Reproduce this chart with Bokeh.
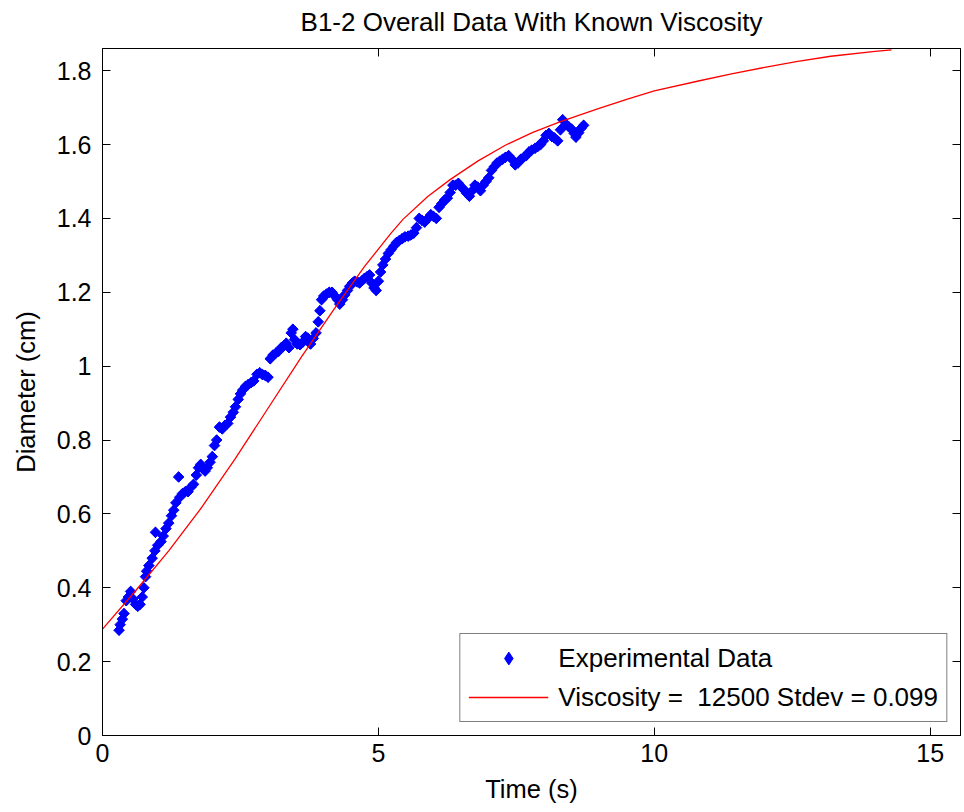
from bokeh.plotting import figure
from bokeh.models import (Range1d, LinearAxis, FixedTicker, Legend, LegendItem, ColumnDataSource,
                          CustomLabelingPolicy)
from bokeh.embed import file_html
from bokeh.resources import INLINE

TITLE = "B1-2 Overall Data With Known Viscosity"
X_LABEL = "Time (s)"
Y_LABEL = "Diameter (cm)"
X_TICKS = [0, 5, 10, 15]
X_TICK_LABELS = ["0", "5", "10", "15"]
Y_TICKS = [0, 0.2, 0.4, 0.6, 0.8, 1, 1.2, 1.4, 1.6, 1.8]
Y_TICK_LABELS = ["0", "0.2", "0.4", "0.6", "0.8", "1", "1.2", "1.4", "1.6", "1.8"]
DATA_LABEL = "Experimental Data"
MODEL_LABEL = "Viscosity =  12500 Stdev = 0.099"

exp_time = [
    0.30, 0.32, 0.36, 0.39, 0.43, 0.47, 0.51, 0.55, 0.60, 0.64, 0.68, 0.72, 0.75, 0.78, 0.80,
    0.84, 0.90, 0.95, 0.96, 1.00, 1.06, 1.10, 1.15, 1.20, 1.25, 1.29, 1.33, 1.38, 1.40, 1.45,
    1.50, 1.55, 1.60, 1.65, 1.70, 1.74, 1.78, 1.82, 1.86, 1.90, 1.95, 1.99, 2.03, 2.07, 2.12,
    2.17, 2.22, 2.27, 2.32, 2.37, 2.41, 2.46, 2.50, 2.54, 2.59, 2.64, 2.69, 2.74, 2.80, 2.85,
    2.90, 2.95, 3.00, 3.04, 3.09, 3.14, 3.19, 3.24, 3.29, 3.33, 3.38, 3.42, 3.45, 3.48, 3.53,
    3.58, 3.63, 3.68, 3.72, 3.77, 3.82, 3.87, 3.91, 3.94, 3.97, 4.01, 4.06, 4.11, 4.16, 4.21,
    4.26, 4.30, 4.35, 4.39, 4.44, 4.48, 4.53, 4.57, 4.62, 4.66, 4.71, 4.75, 4.80, 4.84, 4.88,
    4.92, 4.96, 5.00, 5.04, 5.08, 5.13, 5.18, 5.23, 5.28, 5.33, 5.38, 5.43, 5.48, 5.54, 5.59,
    5.64, 5.69, 5.74, 5.79, 5.84, 5.90, 5.95, 6.00, 6.05, 6.10, 6.15, 6.20, 6.25, 6.30, 6.35,
    6.40, 6.45, 6.50, 6.55, 6.60, 6.65, 6.70, 6.75, 6.80, 6.85, 6.90, 6.95, 7.00, 7.05, 7.10,
    7.15, 7.20, 7.25, 7.30, 7.36, 7.42, 7.48, 7.53, 7.58, 7.63, 7.68, 7.73, 7.78, 7.84, 7.89,
    7.94, 7.99, 8.04, 8.09, 8.14, 8.19, 8.25, 8.30, 8.34, 8.40, 8.45, 8.50, 8.55, 8.58, 8.63,
    8.68, 8.72,
]
exp_diam = [
    0.285, 0.300, 0.315, 0.330, 0.365, 0.375, 0.390, 0.370, 0.355, 0.350, 0.355, 0.375, 0.400, 0.430, 0.445,
    0.460, 0.480, 0.500, 0.550, 0.515, 0.525, 0.540, 0.560, 0.575, 0.595, 0.610, 0.630, 0.700, 0.645, 0.655,
    0.660, 0.660, 0.672, 0.680, 0.705, 0.725, 0.734, 0.722, 0.716, 0.725, 0.740, 0.755, 0.785, 0.800, 0.835,
    0.830, 0.840, 0.845, 0.862, 0.875, 0.890, 0.910, 0.925, 0.935, 0.945, 0.950, 0.955, 0.960, 0.978, 0.982,
    0.977, 0.975, 0.970, 1.020, 1.030, 1.035, 1.040, 1.050, 1.055, 1.062, 1.050, 1.090, 1.100, 1.072, 1.060,
    1.058, 1.065, 1.080, 1.076, 1.060, 1.075, 1.090, 1.120, 1.150, 1.180, 1.190, 1.195, 1.200, 1.200, 1.190,
    1.180, 1.168, 1.180, 1.193, 1.205, 1.216, 1.225, 1.230, 1.228, 1.225, 1.232, 1.238, 1.243, 1.247, 1.225,
    1.212, 1.205, 1.230, 1.255, 1.274, 1.290, 1.305, 1.315, 1.325, 1.335, 1.340, 1.345, 1.350, 1.352, 1.355,
    1.360, 1.375, 1.400, 1.395, 1.390, 1.400, 1.410, 1.405, 1.400, 1.430, 1.440, 1.450, 1.455, 1.470, 1.490,
    1.490, 1.495, 1.485, 1.478, 1.468, 1.460, 1.475, 1.490, 1.485, 1.475, 1.490, 1.500, 1.510, 1.530, 1.540,
    1.550, 1.555, 1.560, 1.565, 1.570, 1.560, 1.545, 1.550, 1.560, 1.565, 1.570, 1.580, 1.585, 1.590, 1.595,
    1.600, 1.610, 1.625, 1.630, 1.622, 1.618, 1.610, 1.640, 1.667, 1.655, 1.648, 1.642, 1.630, 1.620, 1.632,
    1.645, 1.652,
]

model_time = [0.0, 0.6, 1.2, 1.8, 2.4, 3.0, 3.6, 4.2, 4.75, 5.23, 5.45, 5.9, 6.3, 6.8, 7.3, 7.8,
              8.3, 9.0, 9.5, 10.0, 10.8, 11.4, 12.0, 12.6, 13.2, 14.0, 14.3]
model_diam = [0.288, 0.392, 0.500, 0.618, 0.748, 0.886, 1.024, 1.155, 1.270, 1.360, 1.398, 1.460, 1.505,
              1.555, 1.598, 1.633, 1.662, 1.698, 1.722, 1.745, 1.772, 1.791, 1.809, 1.825, 1.839, 1.852, 1.856]

FONT = "Liberation Sans"

p = figure(width=964, height=812, x_range=Range1d(0, 15.55), y_range=Range1d(0, 1.86),
           output_backend="svg", toolbar_location=None, title=TITLE,
           min_border_left=102, min_border_right=1, min_border_top=48, min_border_bottom=77)

p.title.align = "center"
p.title.text_font = FONT
p.title.text_font_size = "26px"
p.title.text_font_style = "normal"
p.title.text_color = "black"
p.title.vertical_align = "top"
p.title.text_baseline = "top"
p.title.standoff = 11

p.background_fill_color = "white"
p.border_fill_color = "white"
p.outline_line_color = "black"
p.xgrid.visible = False
p.ygrid.visible = False

xa = p.xaxis[0]
xa.ticker = FixedTicker(ticks=X_TICKS)
xa.major_label_overrides = dict(zip(X_TICKS, X_TICK_LABELS))
xa.axis_label = X_LABEL
xa.major_label_standoff = 8
xa.axis_label_standoff = 10

ya = p.yaxis[0]
ya.ticker = FixedTicker(ticks=Y_TICKS)
ya.major_label_overrides = dict(zip(Y_TICKS, Y_TICK_LABELS))
ya.axis_label = Y_LABEL
ya.major_label_standoff = 11
ya.axis_label_standoff = 14

for ax in (xa, ya):
    ax.major_tick_in = 8
    ax.major_tick_out = 0
    ax.minor_tick_in = 0
    ax.minor_tick_out = 0
    ax.axis_line_color = "black"
    ax.major_tick_line_color = "black"
    ax.major_label_text_font = FONT
    ax.major_label_text_font_size = "25px"
    ax.major_label_text_color = "black"
    ax.axis_label_text_font = FONT
    ax.axis_label_text_font_size = "25.5px"
    ax.axis_label_text_font_style = "normal"
    ax.axis_label_text_color = "black"

no_labels = CustomLabelingPolicy(code="""
    const out = indices.clone();
    for (let i = 0; i < out.size; i++) out.unset(i);
    return out;
""")

for side, ticks in (("right", Y_TICKS), ("above", X_TICKS)):
    ax = LinearAxis(ticker=FixedTicker(ticks=ticks), major_label_text_font_size="1px",
                    major_label_policy=no_labels,
                    major_label_standoff=0, major_tick_in=8, major_tick_out=0,
                    minor_tick_in=0, minor_tick_out=0, axis_line_color="black",
                    major_tick_line_color="black")
    p.add_layout(ax, side)

src = ColumnDataSource(data=dict(t=exp_time, d=exp_diam))
# diamond glyph (used for the legend sample) under a rotated-square glyph of the same points
sc_legend = p.scatter("t", "d", source=src, marker="diamond", size=10,
                      fill_color="#0000FF", line_color="#0000FF", line_width=1)
sc = p.scatter("t", "d", source=src, marker="square", angle=0.785398, size=7.5,
               fill_color="#0000FF", line_color="#0000FF", line_width=1)
msrc = ColumnDataSource(data=dict(t=model_time, d=model_diam))
ln = p.line("t", "d", source=msrc, line_color="#FF0000", line_width=1.3)

legend = Legend(items=[LegendItem(label=DATA_LABEL, renderers=[sc_legend]),
                       LegendItem(label=MODEL_LABEL, renderers=[ln])],
                location="bottom_right")
legend.border_line_color = "black"
legend.border_line_width = 1
legend.background_fill_color = "white"
legend.background_fill_alpha = 1
legend.label_text_font = FONT
legend.label_text_font_size = "26px"
legend.label_text_color = "black"
legend.glyph_width = 80
legend.glyph_height = 32
legend.label_height = 32
legend.label_standoff = 10
legend.spacing = 7
legend.padding = 8
legend.margin = 13
p.add_layout(legend)

open("out.html", "w").write(file_html(p, INLINE))
